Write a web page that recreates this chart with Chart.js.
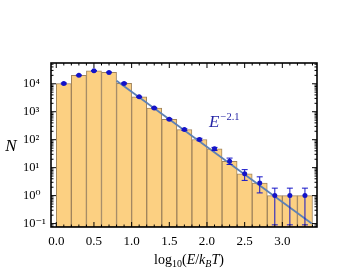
<!DOCTYPE html>
<html lang="en">
<head>
<meta charset="UTF-8">
<title>Energy histogram</title>
<script src="https://cdn.jsdelivr.net/npm/chart.js"></script>
<style>
  body { margin: 0; background: #fff; }
  canvas { display: block; }
</style>
</head>
<body>
<canvas id="histChart" width="353" height="273"></canvas>
<script>
// bins of log10(E/kBT), 0.2 wide
const binCenters = [0.1, 0.3, 0.5, 0.7, 0.9, 1.1, 1.3, 1.5, 1.7, 1.9, 2.1, 2.3, 2.5, 2.7, 2.9, 3.1, 3.3];
const counts = [10200, 20000, 29000, 25500, 10300, 3400, 1350, 540, 230, 102, 47, 17, 6, 2.8, 1, 1, 1];
const errLow = [9700, 19300, 28200, 24700, 9800, 3250, 1280, 510, 214, 92, 41, 13, 3.5, 1.25, 0.09, 0.09, 0.09];
const errHigh = [10700, 20700, 29800, 26300, 10800, 3550, 1420, 570, 246, 112, 53, 22, 8.5, 4.7, 1.85, 1.85, 1.85];
// power-law guide line, E^-2.1
const fitX = [0.8, 3.39];
const fitY = [12800, 0.1];
const xTicks = [0, 0.5, 1, 1.5, 2, 2.5, 3];
const yTicks = [0.1, 1, 10, 100, 1000, 10000];

const serif = '"Liberation Serif", "DejaVu Serif", serif';
const sup = { '-': '\u207b', '0': '\u2070', '1': '\u00b9', '2': '\u00b2', '3': '\u00b3', '4': '\u2074' };

function line(ctx, x1, y1, x2, y2) {
    ctx.beginPath();
    ctx.moveTo(x1, y1);
    ctx.lineTo(x2, y2);
    ctx.stroke();
}

// error bars on top of the bars
const errorBars = {
    id: 'errorBars',
    afterDatasetsDraw(chart) {
        const { ctx, scales: { x, y } } = chart;
        ctx.save();
        ctx.strokeStyle = '#1414c8';
        ctx.lineWidth = 1;
        binCenters.forEach((c, i) => {
            const px = x.getPixelForValue(c);
            const y1 = y.getPixelForValue(errLow[i]);
            const y2 = y.getPixelForValue(errHigh[i]);
            line(ctx, px, y1, px, y2);
            line(ctx, px - 3, y1, px + 3, y1);
            line(ctx, px - 3, y2, px + 3, y2);
        });
        ctx.restore();
    }
};

// frame, inward ticks on all sides, and the text labels
const framePlugin = {
    id: 'frame',
    afterDraw(chart) {
        const { ctx, chartArea: a, scales: { x, y } } = chart;
        ctx.save();
        ctx.strokeStyle = '#000';
        ctx.lineWidth = 1;
        for (let i = 0; i <= 34; i++) {
            const px = x.getPixelForValue(i / 10);
            const len = i % 5 === 0 ? 5 : 2.5;
            line(ctx, px, a.bottom, px, a.bottom - len);
            line(ctx, px, a.top, px, a.top + len);
        }
        for (let e = -2; e <= 4; e++) {
            for (let m = 1; m <= 9; m++) {
                const v = m * Math.pow(10, e);
                if (v < y.min || v > y.max) continue;
                const py = y.getPixelForValue(v);
                const len = m === 1 ? 5 : 2.5;
                line(ctx, a.left, py, a.left + len, py);
                line(ctx, a.right, py, a.right - len, py);
            }
        }
        ctx.lineWidth = 1.6;
        ctx.strokeRect(a.left, a.top, a.right - a.left, a.bottom - a.top);

        // y title
        ctx.fillStyle = '#000';
        ctx.textBaseline = 'alphabetic';
        ctx.font = 'italic 17px ' + serif;
        ctx.textAlign = 'center';
        ctx.fillText('N', 11, 151);

        // x title with subscripts
        const parts = [
            ['log', '14px', 0], ['10', '10px', 3], ['(', '14px', 0], ['E', 'italic 14px', 0],
            ['/', '14px', 0], ['k', 'italic 14px', 0], ['B', 'italic 10px', 3], ['T', 'italic 14px', 0], [')', '14px', 0]
        ];
        ctx.textAlign = 'left';
        let total = 0;
        parts.forEach(p => { ctx.font = p[1] + ' ' + serif; total += ctx.measureText(p[0]).width; });
        let tx = (a.left + a.right) / 2 + 5 - total / 2;
        parts.forEach(p => {
            ctx.font = p[1] + ' ' + serif;
            ctx.fillText(p[0], tx, 264 + p[2]);
            tx += ctx.measureText(p[0]).width;
        });

        // annotation
        ctx.fillStyle = '#2626a6';
        ctx.font = 'italic 17px ' + serif;
        ctx.fillText('E', 209, 126.5);
        ctx.font = '10.5px ' + serif;
        ctx.fillText('\u22122.1', 220.5, 119.5);
        ctx.restore();
    }
};

const ctx = document.getElementById('histChart').getContext('2d');
const histChart = new Chart(ctx, {
    type: 'bar',
    data: {
        datasets: [
            {
                type: 'line',
                data: binCenters.map((c, i) => ({ x: c, y: counts[i] })),
                showLine: false,
                pointRadius: 2.5,
                pointBackgroundColor: '#1414c8',
                pointBorderWidth: 0,
                order: 0
            },
            {
                type: 'line',
                data: fitX.map((v, i) => ({ x: v, y: fitY[i] })),
                borderColor: 'rgb(94, 129, 181)',
                borderWidth: 1.8,
                pointRadius: 0,
                order: 1
            },
            {
                type: 'bar',
                data: binCenters.map((c, i) => ({ x: c, y: counts[i] })),
                backgroundColor: 'rgb(252, 208, 130)',
                borderColor: 'rgb(160, 132, 92)',
                borderWidth: 1,
                borderSkipped: false,
                barPercentage: 1,
                categoryPercentage: 1,
                order: 2
            }
        ]
    },
    plugins: [errorBars, framePlugin],
    options: {
        responsive: false,
        animation: false,
        devicePixelRatio: 1,
        layout: { padding: { top: 63, right: 36, left: 23, bottom: 0 } },
        plugins: { legend: { display: false }, tooltip: { enabled: false } },
        scales: {
            x: {
                type: 'linear',
                offset: false,
                min: -0.07,
                max: 3.46,
                grid: { display: false, drawTicks: false },
                border: { display: false },
                afterBuildTicks: s => { s.ticks = xTicks.map(v => ({ value: v })); },
                afterFit: s => { s.height = 46; },
                ticks: {
                    padding: 7,
                    color: '#000',
                    maxRotation: 0,
                    font: { family: serif, size: 13 },
                    callback: v => v.toFixed(1)
                }
            },
            y: {
                type: 'logarithmic',
                min: 0.0755,
                max: 55300,
                grid: { display: false, drawTicks: false },
                border: { display: false },
                afterBuildTicks: s => { s.ticks = yTicks.map(v => ({ value: v })); },
                afterFit: s => { s.width = 28; },
                ticks: {
                    crossAlign: 'far',
                    color: '#000',
                    font: { family: serif, size: 12.5 },
                    callback: v => '10' + String(Math.round(Math.log10(v))).split('').map(ch => sup[ch]).join('')
                }
            }
        }
    }
});
</script>
</body>
</html>
